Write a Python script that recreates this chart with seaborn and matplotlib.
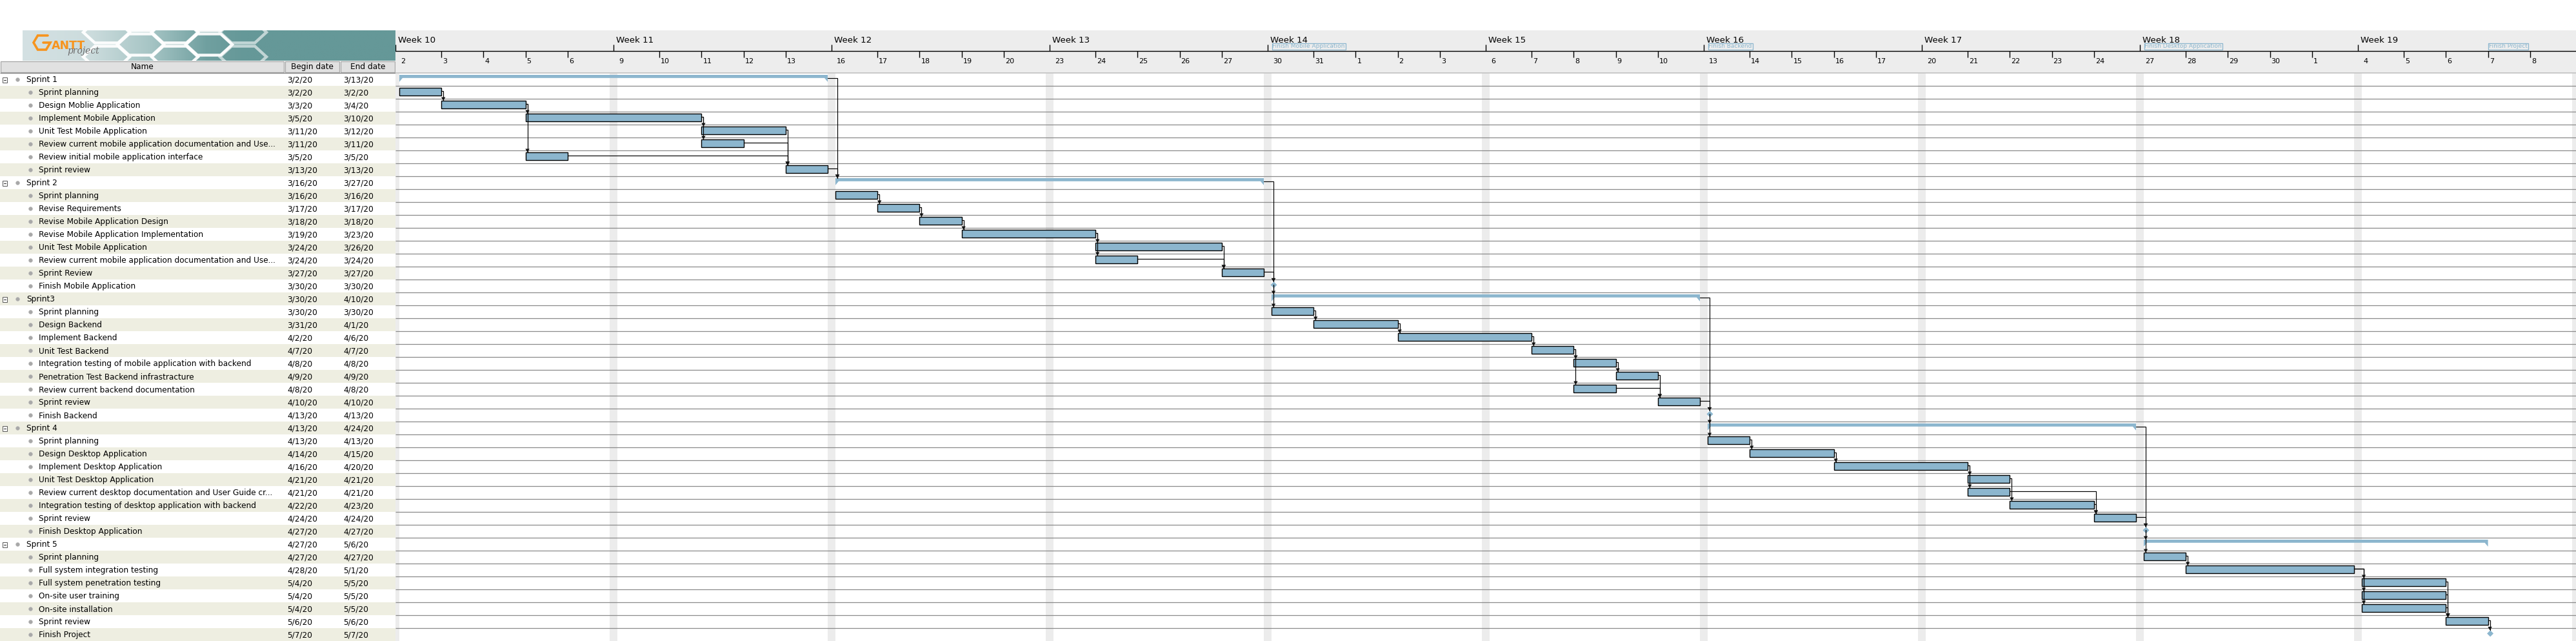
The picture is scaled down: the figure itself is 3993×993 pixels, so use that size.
import numpy as np
import pandas as pd
import matplotlib
matplotlib.use("Agg")
import matplotlib.pyplot as plt
from matplotlib.patches import Polygon, Rectangle
import seaborn as sns

sns.set_theme(style="white")
plt.rcParams['font.family'] = ['DejaVu Sans']

# ---------------- data ----------------
task_names = [
    "Sprint 1", "Sprint planning", "Design Moblie Application", "Implement Mobile Application",
    "Unit Test Mobile Application", "Review current mobile application documentation and Use...",
    "Review initial mobile application interface", "Sprint review",
    "Sprint 2", "Sprint planning", "Revise Requirements", "Revise Mobile Application Design",
    "Revise Mobile Application Implementation", "Unit Test Mobile Application",
    "Review current mobile application documentation and Use...", "Sprint Review",
    "Finish Mobile Application",
    "Sprint3", "Sprint planning", "Design Backend", "Implement Backend", "Unit Test Backend",
    "Integration testing of mobile application with backend", "Penetration Test Backend infrastracture",
    "Review current backend documentation", "Sprint review", "Finish Backend",
    "Sprint 4", "Sprint planning", "Design Desktop Application", "Implement Desktop Application",
    "Unit Test Desktop Application", "Review current desktop documentation and User Guide cr...",
    "Integration testing of desktop application with backend", "Sprint review",
    "Finish Desktop Application",
    "Sprint 5", "Sprint planning", "Full system integration testing", "Full system penetration testing",
    "On-site user training", "On-site installation", "Sprint review", "Finish Project",
]
begin_dates = [
    "3/2/20", "3/2/20", "3/3/20", "3/5/20", "3/11/20", "3/11/20", "3/5/20", "3/13/20",
    "3/16/20", "3/16/20", "3/17/20", "3/18/20", "3/19/20", "3/24/20", "3/24/20", "3/27/20", "3/30/20",
    "3/30/20", "3/30/20", "3/31/20", "4/2/20", "4/7/20", "4/8/20", "4/9/20", "4/8/20", "4/10/20", "4/13/20",
    "4/13/20", "4/13/20", "4/14/20", "4/16/20", "4/21/20", "4/21/20", "4/22/20", "4/24/20", "4/27/20",
    "4/27/20", "4/27/20", "4/28/20", "5/4/20", "5/4/20", "5/4/20", "5/6/20", "5/7/20",
]
end_dates = [
    "3/13/20", "3/2/20", "3/4/20", "3/10/20", "3/12/20", "3/11/20", "3/5/20", "3/13/20",
    "3/27/20", "3/16/20", "3/17/20", "3/18/20", "3/23/20", "3/26/20", "3/24/20", "3/27/20", "3/30/20",
    "4/10/20", "3/30/20", "4/1/20", "4/6/20", "4/7/20", "4/8/20", "4/9/20", "4/8/20", "4/10/20", "4/13/20",
    "4/24/20", "4/13/20", "4/15/20", "4/20/20", "4/21/20", "4/21/20", "4/23/20", "4/24/20", "4/27/20",
    "5/6/20", "4/27/20", "5/1/20", "5/5/20", "5/5/20", "5/5/20", "5/6/20", "5/7/20",
]
summary_rows = [0, 8, 17, 27, 36]
milestone_rows = [16, 26, 35, 43]
dep_from = [1, 2, 2, 3, 3, 4, 5, 6, 0, 7,
            9, 10, 11, 12, 12, 13, 14, 8, 15, 16, 16,
            18, 19, 20, 21, 21, 22, 23, 24, 17, 25, 26, 26,
            28, 29, 30, 30, 31, 32, 33, 27, 34, 35, 35,
            37, 38, 38, 38, 39, 40, 41, 42]
dep_to = [2, 3, 6, 4, 5, 7, 7, 7, 8, 8,
          10, 11, 12, 13, 14, 15, 15, 16, 16, 17, 18,
          19, 20, 21, 22, 24, 23, 25, 25, 26, 26, 27, 28,
          29, 30, 31, 32, 33, 34, 34, 35, 35, 36, 37,
          38, 39, 40, 41, 42, 42, 42, 43]
week_labels = ["Week 10", "Week 11", "Week 12", "Week 13", "Week 14",
               "Week 15", "Week 16", "Week 17", "Week 18", "Week 19"]
chart_start = "2020-03-01"
chart_end = "2020-05-09"

# ---------------- layout / style ----------------
W, H = 3993, 993
TABLE_W = 613
HEADER_TOP = 47
ROW0 = 113
ROW_H = 20
N = len(task_names)
Y_TOP = (HEADER_TOP - ROW0) / ROW_H
XMAX = 51.84
WEEKEND_FRAC = 0.092
PX_X = (W - TABLE_W) / XMAX

BAR = '#8cb6ce'
HEADER_BG = '#ededed'
WEEKEND_C = '#ececec'
ROWLINE = '#8a8a8a'
BEIGE = '#eeeee1'
FS = 8.7

ORIGIN = np.datetime64(chart_start)


def pos(d):
    d = np.datetime64(d, "D")
    total = int((d - ORIGIN) / np.timedelta64(1, "D"))
    wd = int(np.busday_count(ORIGIN, d))
    return wd + WEEKEND_FRAC * (total - wd)


def dxp(px):
    return px / PX_X


def dyp(px):
    return px / ROW_H


def ypix(py):
    return (py - ROW0) / ROW_H


begins = pd.to_datetime(begin_dates, format="%m/%d/%y").values.astype("datetime64[D]")
ends = pd.to_datetime(end_dates, format="%m/%d/%y").values.astype("datetime64[D]")
one = np.timedelta64(1, "D")
kinds = ["task"] * N
for r in summary_rows:
    kinds[r] = "summary"
for r in milestone_rows:
    kinds[r] = "milestone"

fig = plt.figure(figsize=(W / 100, H / 100), dpi=100)
fig.patch.set_facecolor('white')

# ================= chart axes =================
ax = fig.add_axes([TABLE_W / W, 0, (W - TABLE_W) / W, (H - HEADER_TOP) / H])
ax.set_xlim(0, XMAX)
ax.set_ylim(N, Y_TOP)
ax.axis('off')

# header background
ax.add_patch(Rectangle((0, Y_TOP), XMAX, -Y_TOP, facecolor=HEADER_BG, edgecolor='none', zorder=0))
ax.axhline(0, color='#c6c6c6', lw=1.3, zorder=1)

# weekend stripes
all_days = np.arange(np.datetime64(chart_start), np.datetime64(chart_end) + 2 * one)
wk_days = [d for d in all_days if not np.is_busday(d)]
wk_x = [pos(d) for d in wk_days]
wk_w = [pos(d + one) - pos(d) for d in wk_days]
ax.bar(wk_x, height=N, bottom=0, width=wk_w, align='edge', color=WEEKEND_C, linewidth=0, zorder=0.5)

# row lines
ax.hlines(np.arange(1, N), 0, XMAX, color=ROWLINE, lw=0.9, zorder=1)

# timeline header
line_y = ypix(79)
ax.axhline(line_y, color='black', lw=1.0, zorder=2)
sundays = [d for d in all_days if pd.Timestamp(d).dayofweek == 6][:len(week_labels)]
for d, lab in zip(sundays, week_labels):
    x = pos(d)
    ax.vlines(x, ypix(69), line_y, color='black', lw=1.0, zorder=2, clip_on=False)
    ax.text(x + dxp(4), ypix(66), lab, fontsize=9.6, color='black', ha='left', va='baseline', zorder=3)
work_days = [d for d in all_days if np.is_busday(d) and d <= np.datetime64(chart_end)]
for d in work_days:
    x = pos(d)
    if pd.Timestamp(d).dayofweek != 0:
        ax.vlines(x, line_y, ypix(89), color='black', lw=1.0, zorder=2)
    ax.text(x + dxp(2), ypix(94.5), str(pd.Timestamp(d).day), fontsize=8.0, color='black',
            ha='left', va='center', zorder=3)

# milestone labels in header
for r in milestone_rows:
    ax.text(pos(begins[r]) + dxp(1.5), ypix(72), task_names[r], fontsize=6.5, color=BAR,
            ha='left', va='center', zorder=4,
            bbox=dict(boxstyle='square,pad=0.08', fc='none', ec=BAR, lw=0.9))

# task bars
task_rows = [r for r in range(N) if kinds[r] == "task"]
lefts = [pos(begins[r]) for r in task_rows]
widths = [pos(ends[r] + one) - pos(begins[r]) for r in task_rows]
ax.barh([r + 0.45 for r in task_rows], widths, left=lefts, height=0.58, color=BAR,
        edgecolor='black', linewidth=1.0, zorder=4)

# summary bars
for r in summary_rows:
    x0, x1 = pos(begins[r]), pos(ends[r] + one)
    top, bb, tb = r + 0.15, r + 0.39, r + 0.69
    t = dxp(5)
    ax.add_patch(Polygon([(x0, top), (x1, top), (x1, tb), (x1 - t, bb), (x0 + t, bb), (x0, tb)],
                         closed=True, facecolor=BAR, edgecolor='none', zorder=4))

# milestones
ms_x = [pos(begins[r]) + dxp(3.5) for r in milestone_rows]
ms_y = [r + 0.42 for r in milestone_rows]
sns.scatterplot(x=ms_x, y=ms_y, marker='D', s=26, color=BAR, edgecolor='none', ax=ax, zorder=5,
                legend=False)
ax.set_xlim(0, XMAX)
ax.set_ylim(N, Y_TOP)
ax.axis('off')

# dependencies
for p, s in zip(dep_from, dep_to):
    yp = p + 0.4
    if kinds[p] == "milestone":
        xe = pos(begins[p]) + dxp(3.5)
    else:
        xe = pos(ends[p] + one)
    xv = pos(begins[s]) + dxp(3)
    tip = s + (0.17 if kinds[s] == "milestone" else 0.15)
    ax.plot([xe, xv, xv], [yp, yp, tip], color='black', lw=0.85, zorder=6,
            solid_joinstyle='miter')
    ax.add_patch(Polygon([(xv, tip), (xv - dxp(3.2), tip - dyp(5.5)), (xv + dxp(3.2), tip - dyp(5.5))],
                         closed=True, facecolor='#111111', edgecolor='none', zorder=7))

# ================= table axes =================
axt = fig.add_axes([0, 0, TABLE_W / W, (H - HEADER_TOP) / H])
axt.set_xlim(0, TABLE_W)
axt.set_ylim(N, Y_TOP)
axt.axis('off')

# logo gradient
xs = np.linspace(35, TABLE_W, 400)
stops_x = [35, 140, 230, 320, 380, TABLE_W]
stops_c = np.array([[212, 225, 227], [204, 220, 221], [168, 198, 198], [112, 160, 160],
                    [101, 152, 152], [101, 152, 152]]) / 255.0
grad = np.stack([np.interp(xs, stops_x, stops_c[:, k]) for k in range(3)], axis=-1)[None, :, :]
axt.imshow(grad, extent=(35, TABLE_W, ypix(94), ypix(47)), aspect='auto', zorder=1,
           interpolation='bilinear')
logo_clip = Rectangle((35, ypix(47)), TABLE_W - 35, ypix(94) - ypix(47), transform=axt.transData,
                      facecolor='none', edgecolor='none')
axt.add_patch(logo_clip)
RX, RY = 36.0, 19.0
hex_centers = [(165, 50), (218, 69), (271, 50), (324, 69), (377, 50),
               (218, 31), (324, 31), (165, 88), (271, 88), (377, 88)]
for cx, cy in hex_centers:
    pts = [(cx + RX * np.cos(np.radians(a)), ypix(cy + RY * np.sin(np.radians(a))))
           for a in range(0, 360, 60)]
    alpha = 0.95 if cx < 360 else 0.6
    hx = Polygon(pts, closed=True, facecolor='none', edgecolor='white', lw=3.2,
                 alpha=alpha, zorder=2)
    axt.add_patch(hx)
    hx.set_clip_path(logo_clip)
# G glyph
gx = [74, 58.5, 52, 58.5, 71.5, 78, 67]
gy = [55, 55, 66, 77, 77, 66, 66]
axt.plot(gx, [ypix(v) for v in gy], color='#f7941d', lw=2.6, solid_joinstyle='miter', zorder=3)
axt.text(80, ypix(75.5), "ANTT", fontsize=12.5, fontweight='bold', color='#f7941d',
         ha='left', va='baseline', zorder=3)
axt.text(104, ypix(83), "project", fontsize=10, family='DejaVu Serif', style='italic',
         color='#6e6e6e', ha='left', va='baseline', zorder=3)
axt.set_xlim(0, TABLE_W)
axt.set_ylim(N, Y_TOP)

# header cells
cells = [(0, 441, "Name"), (441, 527, "Begin date"), (527, TABLE_W, "End date")]
for x0, x1, lab in cells:
    axt.add_patch(Rectangle((x0 + 1, ypix(94.5)), x1 - x0 - 2, ypix(112) - ypix(94.5),
                            facecolor='#e1e1e1', edgecolor='#a6a6a6', lw=0.9, zorder=2))
    axt.text((x0 + x1) / 2, ypix(103.5), lab, fontsize=FS, color='black', ha='center',
             va='center', zorder=3)
axt.hlines(ypix(112.5), 0, TABLE_W, color='#8a8a8a', lw=1.0, zorder=3)

# alternating rows
odd = np.arange(1, N, 2)
axt.barh(odd + 0.5, TABLE_W, left=0, height=1.0, color=BEIGE, linewidth=0, zorder=1)

# tree glyphs, bullets and texts
bullet_x = []
bullet_y = []
for r in range(N):
    yc = r + 0.55
    if kinds[r] == "summary":
        axt.add_patch(Rectangle((4, yc - 0.18), 7, 0.36, facecolor='white', edgecolor='#555555',
                                lw=0.7, zorder=3))
        axt.plot([5.8, 9.2], [yc, yc], color='#333333', lw=0.8, zorder=4)
        bullet_x.append(27)
        tx = 41
    else:
        bullet_x.append(47)
        tx = 60
    bullet_y.append(r + 0.5)
    axt.text(tx, yc, task_names[r], fontsize=FS, color='black', ha='left', va='center', zorder=3)
    axt.text(445, yc, begin_dates[r], fontsize=FS, color='black', ha='left', va='center', zorder=3)
    axt.text(532, yc, end_dates[r], fontsize=FS, color='black', ha='left', va='center', zorder=3)

sns.scatterplot(x=bullet_x, y=bullet_y, s=18, color='#a8a8a8', edgecolor='#bdbdbd', linewidth=0.4,
                ax=axt, zorder=4, legend=False)
axt.set_xlim(0, TABLE_W)
axt.set_ylim(N, Y_TOP)
axt.axis('off')

fig.savefig("out.png", dpi=100, facecolor='white')
